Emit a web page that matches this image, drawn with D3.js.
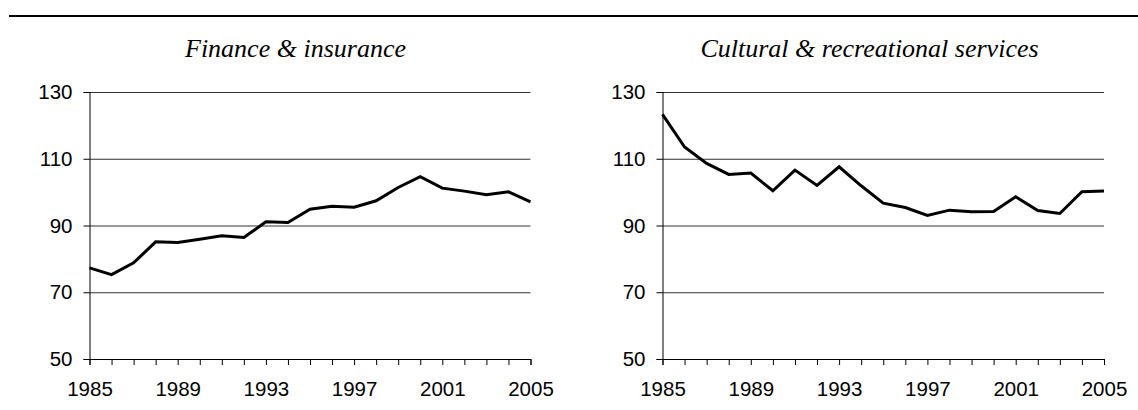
<!DOCTYPE html>
<html>
<head>
<meta charset="utf-8">
<script src="https://cdn.jsdelivr.net/npm/d3@7"></script>
<style>
  body { margin: 0; background: #fff; }
  svg { display: block; }
  .axis text { font-family: "Liberation Sans", Arial, sans-serif; font-size: 20.5px; fill: #000; }
</style>
</head>
<body>
<svg width="1138" height="410"></svg>
<script>
const svg = d3.select("svg");

const years = d3.range(1985, 2006);
const yearLabels = [1985, 1989, 1993, 1997, 2001, 2005];
const yTicks = [50, 70, 90, 110, 130];

const financeTitle = "Finance & insurance";
const financeValues = [77.3, 75.3, 78.8, 85.1, 84.9, 85.9, 86.9, 86.4, 91.1, 90.9,
  94.9, 95.8, 95.5, 97.4, 101.4, 104.6, 101.2, 100.3, 99.2, 100.1, 97.1];

const culturalTitle = "Cultural & recreational services";
const culturalValues = [123.3, 113.5, 108.6, 105.3, 105.7, 100.4, 106.6, 102.0, 107.6, 101.9,
  96.7, 95.4, 93.0, 94.6, 94.1, 94.2, 98.6, 94.5, 93.6, 100.1, 100.3];

const plotTop = 92;
const plotBottom = 359;

// thick rule along the top
svg.append("line")
  .attr("x1", 9).attr("x2", 1138)
  .attr("y1", 16).attr("y2", 16)
  .attr("stroke", "black")
  .attr("stroke-width", 2.2);

function drawPanel(title, values, left, right, titleX) {
  const x = d3.scaleLinear().domain([1985, 2005]).range([left, right]);
  const y = d3.scaleLinear().domain([50, 130]).range([plotBottom, plotTop]);

  const g = svg.append("g");

  g.append("text")
    .attr("x", titleX)
    .attr("y", 57)
    .attr("text-anchor", "middle")
    .attr("font-family", "Liberation Serif, Times New Roman, serif")
    .attr("font-style", "italic")
    .attr("font-size", 26)
    .text(title);

  // gridlines
  g.selectAll(".grid")
    .data(yTicks.slice(1))
    .join("line")
    .attr("x1", left).attr("x2", right)
    .attr("y1", d => y(d) + 0.5).attr("y2", d => y(d) + 0.5)
    .attr("stroke", "#333")
    .attr("stroke-width", 1);

  const yAxis = g.append("g")
    .attr("class", "axis")
    .attr("transform", `translate(${left},0)`)
    .call(d3.axisLeft(y).tickValues(yTicks).tickSize(6).tickPadding(11));

  const xAxis = g.append("g")
    .attr("class", "axis")
    .attr("transform", `translate(0,${plotBottom})`)
    .call(d3.axisBottom(x)
      .tickValues(years)
      .tickSize(6)
      .tickPadding(16)
      .tickFormat(d => yearLabels.includes(d) ? d : ""));

  [yAxis, xAxis].forEach(a => {
    a.select(".domain").attr("stroke", "black");
    a.selectAll(".tick line").attr("stroke", "black");
  });

  const line = d3.line()
    .x((d, i) => x(years[i]))
    .y(d => y(d));

  g.append("path")
    .datum(values)
    .attr("fill", "none")
    .attr("stroke", "black")
    .attr("stroke-width", 3)
    .attr("stroke-linejoin", "miter")
    .attr("d", line);
}

drawPanel(financeTitle, financeValues, 89.5, 530.5, 295.5);
drawPanel(culturalTitle, culturalValues, 662.5, 1104, 869.5);
</script>
</body>
</html>
